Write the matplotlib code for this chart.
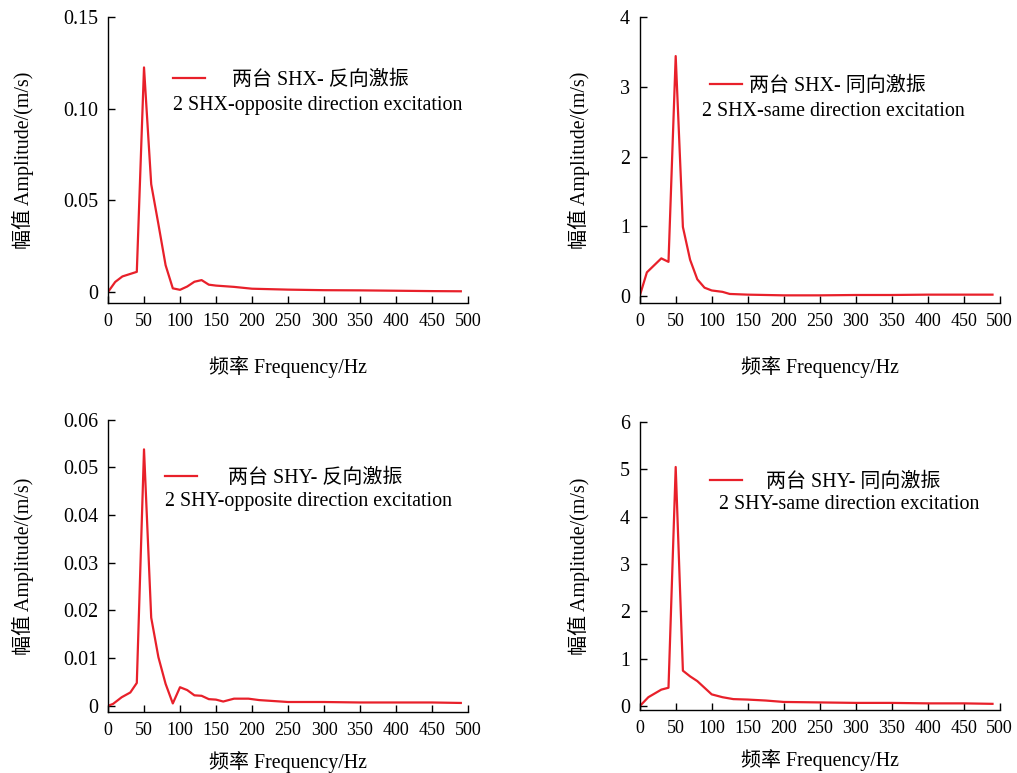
import matplotlib
matplotlib.use("Agg")
import matplotlib.pyplot as plt

plt.rcParams['font.family'] = ['Liberation Serif', 'Noto Sans CJK SC']
plt.rcParams['font.size'] = 14.4

# --- data ---
freq_a = [0, 10, 20, 40, 50, 60, 70, 80, 90, 100, 110, 120, 130, 140, 150, 175, 200, 250, 300, 350, 400, 450, 490]
amp_a = [0.0, 0.0055, 0.0085, 0.011, 0.1225, 0.0588, 0.037, 0.0146, 0.002, 0.0012, 0.003, 0.0056,
         0.0065, 0.004, 0.0035, 0.0028, 0.0018, 0.0013, 0.001, 0.0009, 0.0007, 0.0005, 0.0004]

freq_b = [0, 10, 30, 40, 50, 60, 70, 80, 90, 100, 115, 125, 150, 200, 250, 300, 350, 400, 450, 490]
amp_b = [0.0, 0.34, 0.54, 0.49, 3.44, 0.99, 0.52, 0.24, 0.12, 0.08, 0.06, 0.03, 0.02, 0.01,
         0.01, 0.015, 0.015, 0.02, 0.02, 0.02]

freq_c = [0, 7, 19, 31, 40, 50, 60, 70, 80, 90, 100, 110, 120, 130, 140, 150, 160, 175, 195, 210,
          250, 300, 350, 400, 450, 490]
amp_c = [0.0, 0.0004, 0.0018, 0.0028, 0.0048, 0.0538, 0.0185, 0.0102, 0.0046, 0.0005, 0.0039,
         0.0033, 0.0022, 0.0021, 0.0014, 0.0013, 0.0009, 0.0015, 0.0015, 0.0012, 0.0008, 0.0008,
         0.0007, 0.0007, 0.0007, 0.0006]

freq_d = [0, 12, 30, 40, 50, 60, 70, 80, 90, 100, 115, 130, 150, 175, 200, 250, 300, 350, 400, 450, 490]
amp_d = [0.0, 0.19, 0.35, 0.39, 5.05, 0.75, 0.63, 0.53, 0.39, 0.25, 0.19, 0.15, 0.14, 0.12, 0.09,
         0.08, 0.07, 0.07, 0.06, 0.06, 0.05]

xticks = [0, 50, 100, 150, 200, 250, 300, 350, 400, 450, 500]
yticks_a = [0, 0.05, 0.10, 0.15]
ylabels_a = ['0', '0.05', '0.10', '0.15']
yticks_b = [0, 1, 2, 3, 4]
yticks_c = [0, 0.01, 0.02, 0.03, 0.04, 0.05, 0.06]
ylabels_c = ['0', '0.01', '0.02', '0.03', '0.04', '0.05', '0.06']
yticks_d = [0, 1, 2, 3, 4, 5, 6]

legend_cn = ['两台 SHX- 反向激振', '两台 SHX- 同向激振', '两台 SHY- 反向激振', '两台 SHY- 同向激振']
legend_en = ['2 SHX-opposite direction excitation', '2 SHX-same direction excitation',
             '2 SHY-opposite direction excitation', '2 SHY-same direction excitation']

RED = '#e8202a'

fig = plt.figure(figsize=(10.17, 7.73), dpi=100)

# rect, data, ylim, ticks, legend (handle x, y line1, x line2, y line2), text gap, xlabel y, ylabel x
panels = [
    ([0.1062, 0.608, 0.354, 0.370], freq_a, amp_a, (-0.006, 0.15), yticks_a, ylabels_a,
     (0.18, 0.778, 0.18, 0.691), 1.35, -0.184, -0.206),
    ([0.629, 0.608, 0.354, 0.370], freq_b, amp_b, (-0.1, 4), yticks_b, [str(v) for v in yticks_b],
     (0.194, 0.757, 0.172, 0.67), 0.35, -0.184, -0.139),
    ([0.1062, 0.0789, 0.354, 0.378], freq_c, amp_c, (-0.0013, 0.06), yticks_c, ylabels_c,
     (0.158, 0.801, 0.158, 0.719), 1.55, -0.134, -0.206),
    ([0.629, 0.0815, 0.354, 0.3726], freq_d, amp_d, (-0.08, 6), yticks_d, [str(v) for v in yticks_d],
     (0.194, 0.792, 0.219, 0.715), 1.2, -0.134, -0.139),
]

for i, (rect, f, a, ylim, yt, yl, lg, gap, xl_y, yl_x) in enumerate(panels):
    ax = fig.add_axes(rect)
    line, = ax.plot(f, a, color=RED, lw=1.6)
    ax.set_xlim(0, 500)
    ax.set_ylim(*ylim)
    ax.set_xticks(xticks)
    ax.set_yticks(yt)
    ax.set_yticklabels(yl)
    for s in ['top', 'right']:
        ax.spines[s].set_visible(False)
    for s in ['left', 'bottom']:
        ax.spines[s].set_linewidth(1.0)
    ax.tick_params(direction='in', length=5, width=1.0, pad=7)
    ax.tick_params(axis='x', labelsize=13)
    ax.tick_params(axis='y', labelsize=14.4)
    ax.set_xlabel('频率 Frequency/Hz')
    ax.set_ylabel('幅值 Amplitude/(m/s)')
    ax.xaxis.set_label_coords(0.5, xl_y)
    ax.yaxis.set_label_coords(yl_x, 0.5)

    hx, hy, x2, y2 = lg
    ax.legend([line], [legend_cn[i]], loc='center left', bbox_to_anchor=(hx, hy),
              frameon=False, borderaxespad=0, borderpad=0, handlelength=1.6,
              handletextpad=gap)
    ax.text(x2, y2, legend_en[i], transform=ax.transAxes, ha='left', va='center')

fig.savefig('out.png', dpi=100)
